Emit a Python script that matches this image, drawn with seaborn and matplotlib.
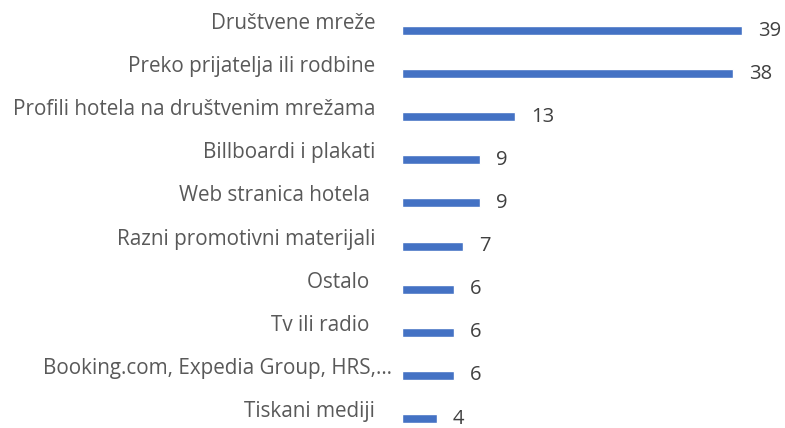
import matplotlib
matplotlib.use("Agg")
import matplotlib.pyplot as plt
import matplotlib.transforms as mtransforms
import seaborn as sns
import pandas as pd

categories = [
    "Društvene mreže",
    "Preko prijatelja ili rodbine",
    "Profili hotela na društvenim mrežama",
    "Billboardi i plakati",
    "Web stranica hotela ",
    "Razni promotivni materijali",
    "Ostalo ",
    "Tv ili radio ",
    "Booking.com, Expedia Group, HRS,…",
    "Tiskani mediji",
]
values = [39, 38, 13, 9, 9, 7, 6, 6, 6, 4]

df = pd.DataFrame({"kategorija": categories, "vrijednost": values})

sns.set_theme(style="white")
plt.rcParams["font.family"] = ["Open Sans", "DejaVu Sans"]

W, H, DPI = 785, 428, 100
fig = plt.figure(figsize=(W / DPI, H / DPI), dpi=DPI)
x0 = 402
ax = fig.add_axes([x0 / W, 0, 1 - x0 / W, (H - 9.4) / H])

sns.barplot(data=df, x="vrijednost", y="kategorija", orient="h",
            color="#4472C4", width=0.21, saturation=1, ax=ax)

ax.set_xlim(0, (W - x0) / 8.72)
ax.set_ylim(9.22, -0.49)
ax.set_xlabel("")
ax.set_ylabel("")
ax.set_xticks([])
for s in ax.spines.values():
    s.set_visible(False)

ax.tick_params(axis="y", length=0, pad=19.4, labelsize=14.9, labelcolor="#595959")
offset = mtransforms.ScaledTranslation(0, 9.5 / DPI, fig.dpi_scale_trans)
offset_trunc = mtransforms.ScaledTranslation(17 / DPI, 9.5 / DPI, fig.dpi_scale_trans)
for lbl in ax.get_yticklabels():
    if lbl.get_text().endswith("…"):
        lbl.set_transform(lbl.get_transform() + offset_trunc)
    else:
        lbl.set_transform(lbl.get_transform() + offset)

for c in ax.containers:
    labels = ax.bar_label(c, padding=11.5, fontsize=14.5, color="#404040")
    off2 = mtransforms.ScaledTranslation(0, -1.2 / DPI, fig.dpi_scale_trans)
    for t in labels:
        t.set_transform(t.get_transform() + off2)

fig.savefig("out.png", dpi=DPI)
